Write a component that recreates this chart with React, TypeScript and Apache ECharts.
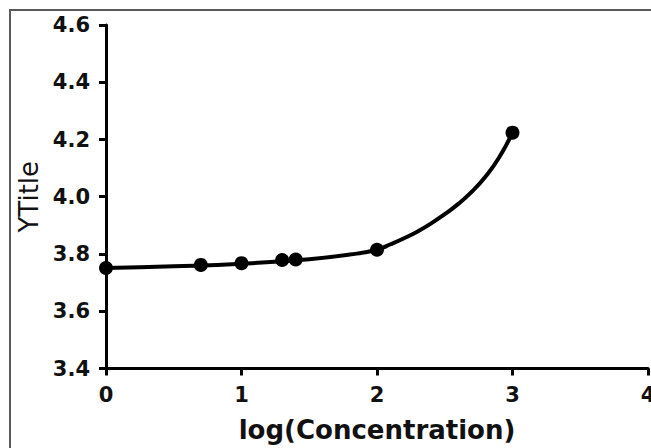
import React, { useEffect, useRef } from "react";
import * as echarts from "echarts";

// Measured data points
const pointX = [0, 0.7, 1, 1.3, 1.4, 2, 3];
const pointY = [3.751, 3.762, 3.768, 3.779, 3.781, 3.815, 4.224];

// Fitted curve
const curveX = [0, 0.5, 1, 1.5, 1.8, 2, 2.1, 2.2, 2.3, 2.4, 2.5, 2.6, 2.7, 2.8, 2.9, 3];
const curveY = [
  3.751, 3.757, 3.766, 3.782, 3.798, 3.815, 3.834, 3.855, 3.879, 3.907, 3.939, 3.975, 4.018,
  4.07, 4.136, 4.224,
];

const xTicks = [0, 1, 2, 3, 4];
const yTicks = [3.4, 3.6, 3.8, 4.0, 4.2, 4.4, 4.6];

const xTitle = "log(Concentration)";
const yTitle = "YTitle";

export default function App() {
  const ref = useRef<HTMLDivElement>(null);
  useEffect(() => {
    if (!ref.current) return;
    const chart = echarts.init(ref.current, null, { renderer: "svg" });
    const font = "DejaVu Sans";
    chart.setOption({
      animation: false,
      backgroundColor: "#ffffff",
      graphic: [
        {
          type: "rect",
          shape: { x: 10, y: 10, width: 800, height: 600 },
          style: { fill: "none", stroke: "#5a5a5a", lineWidth: 2 },
          silent: true,
        },
      ],
      grid: {
        left: 106,
        right: 3,
        top: 25,
        bottom: 79.5,
        containLabel: false,
        outerBoundsMode: "none",
      },
      xAxis: {
        type: "value",
        min: xTicks[0],
        max: xTicks[xTicks.length - 1],
        interval: 1,
        name: xTitle,
        nameLocation: "middle",
        nameGap: 48,
        nameTextStyle: { fontFamily: font, fontSize: 26, fontWeight: "bold", color: "#111" },
        axisLine: { show: true, onZero: false, lineStyle: { color: "#000", width: 3 } },
        axisTick: { show: true, inside: false, length: 7, lineStyle: { color: "#000", width: 3 } },
        axisLabel: {
          margin: 16,
          fontFamily: font,
          fontSize: 21,
          fontWeight: "bold",
          color: "#111",
          hideOverlap: false,
          formatter: (v: number) => String(v),
        },
        splitLine: { show: false },
      },
      yAxis: {
        type: "value",
        min: yTicks[0],
        max: yTicks[yTicks.length - 1],
        interval: 0.2,
        name: yTitle,
        nameLocation: "middle",
        nameGap: 62,
        nameRotate: 90,
        nameTextStyle: { fontFamily: font, fontSize: 26, color: "#111" },
        axisLine: { show: true, onZero: false, lineStyle: { color: "#000", width: 3 } },
        axisTick: { show: true, inside: false, length: 7, lineStyle: { color: "#000", width: 3 } },
        axisLabel: {
          margin: 16,
          fontFamily: font,
          fontSize: 21,
          fontWeight: "bold",
          color: "#111",
          formatter: (v: number) => v.toFixed(1),
        },
        splitLine: { show: false },
      },
      series: [
        {
          type: "line",
          data: curveX.map((x, i) => [x, curveY[i]]),
          smooth: 0.5,
          showSymbol: false,
          symbol: "none",
          lineStyle: { color: "#000", width: 4 },
          clip: false,
          z: 3,
        },
        {
          type: "scatter",
          data: pointX.map((x, i) => [x, pointY[i]]),
          symbol: "circle",
          symbolSize: 14,
          itemStyle: { color: "#000", opacity: 1 },
          clip: false,
          z: 4,
        },
      ],
    });
    return () => chart.dispose();
  }, []);
  return (
    <div
      ref={ref}
      style={{ position: "absolute", left: 0, top: 0, width: 651, height: 448, background: "#fff" }}
    />
  );
}
